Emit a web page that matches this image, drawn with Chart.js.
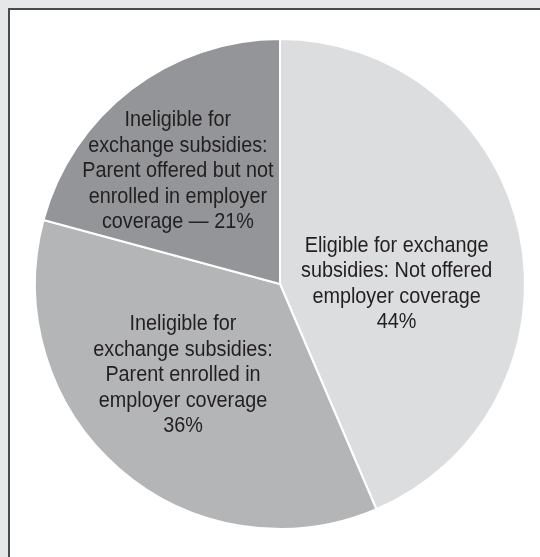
<!DOCTYPE html>
<html>
<head>
<meta charset="utf-8">
<script src="https://cdn.jsdelivr.net/npm/chart.js@4/dist/chart.umd.min.js"></script>
<style>
  html, body { margin: 0; padding: 0; }
  body { width: 540px; height: 557px; background: #e6e7e8; position: relative; overflow: hidden; }
  .frame {
    position: absolute; left: 8px; top: 8px; right: 0; bottom: 0;
    background: #fff;
    border-top: 2px solid #4a4a4a;
    border-left: 2px solid #4a4a4a;
  }
  #chartBox { position: absolute; left: 0; top: 0; width: 540px; height: 557px; }
</style>
</head>
<body>
<div class="frame"></div>
<div id="chartBox"><canvas id="pieChart"></canvas></div>
<script>
// データ
var categories = [
  ['Eligible for exchange', 'subsidies: Not offered', 'employer coverage'],
  ['Ineligible for', 'exchange subsidies:', 'Parent enrolled in', 'employer coverage'],
  ['Ineligible for', 'exchange subsidies:', 'Parent offered but not', 'enrolled in employer', 'coverage']
];
var values = [44, 36, 21];
var sliceColors = ['#dcddde', '#b4b5b7', '#939598'];

// ラベル位置（半径に対する割合）
var labelOffsets = [[0.476, 0.0], [-0.396, 0.372], [-0.417, -0.46]];
// 最後のラベルは同じ行に割合を付ける
var inlinePercent = [false, false, true];

var labelFont = '22px "Liberation Sans", Arial, sans-serif';
var narrow = 0.9;   // コンデンス書体の代わりに横方向を縮める
var lineHeight = 25.5;

// スライス内のラベル描画
var sliceLabels = {
  id: 'sliceLabels',
  afterDatasetsDraw: function(chart) {
    var ctx = chart.ctx;
    var meta = chart.getDatasetMeta(0);
    meta.data.forEach(function(arc, i) {
      var p = arc.getProps(['x', 'y', 'outerRadius'], true);
      var lines = categories[i].slice();
      if (inlinePercent[i]) {
        lines[lines.length - 1] += ' \u2014 ' + values[i] + '%';
      } else {
        lines.push(values[i] + '%');
      }
      var cx = p.x + labelOffsets[i][0] * p.outerRadius;
      var cy = p.y + labelOffsets[i][1] * p.outerRadius;
      var top = cy - (lines.length - 1) * lineHeight / 2;
      ctx.save();
      ctx.translate(cx, 0);
      ctx.scale(narrow, 1);
      ctx.font = labelFont;
      ctx.fillStyle = '#231f20';
      ctx.textAlign = 'center';
      ctx.textBaseline = 'middle';
      lines.forEach(function(line, j) {
        ctx.fillText(line, 0, top + j * lineHeight);
      });
      ctx.restore();
    });
  }
};

new Chart(document.getElementById('pieChart'), {
  type: 'pie',
  data: {
    labels: categories.map(function(c) { return c.join(' '); }),
    datasets: [{
      data: values,
      backgroundColor: sliceColors,
      borderColor: '#ffffff',
      borderWidth: 2
    }]
  },
  options: {
    responsive: true,
    maintainAspectRatio: false,
    animation: false,
    layout: { padding: { left: 34, right: 14, top: 38, bottom: 27 } },
    plugins: {
      legend: { display: false },
      tooltip: { enabled: false }
    }
  },
  plugins: [sliceLabels]
});
</script>
</body>
</html>
